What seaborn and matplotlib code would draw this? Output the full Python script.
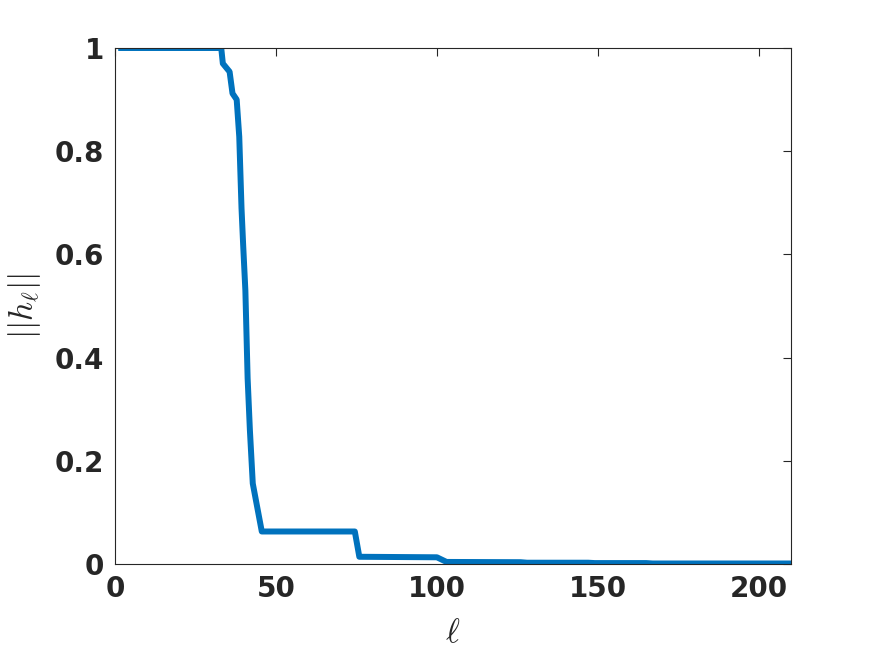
import numpy as np
import pandas as pd
import matplotlib
matplotlib.use("Agg")
import matplotlib.pyplot as plt
import seaborn as sns

# data (vertices of the curve)
ell = [1, 33, 33.5, 35.6, 36.5, 37.8, 38.6, 39.3, 39.8, 40.5, 41.2, 41.9, 42.8,
       45.6, 74.5, 75.9, 100.0, 103.0, 126.0, 128.0, 147.0, 149.0, 165.0, 167.0, 210]
h_norm = [1.0, 1.0, 0.97, 0.954, 0.912, 0.90, 0.828, 0.69, 0.62, 0.53, 0.36, 0.26, 0.156,
          0.063, 0.063, 0.014, 0.013, 0.004, 0.0035, 0.0025, 0.0025, 0.0018, 0.0018, 0.001, 0.001]

x_ticks = [0, 50, 100, 150, 200]
y_ticks = [0, 0.2, 0.4, 0.6, 0.8, 1]
y_tick_labels = ["0", "0.2", "0.4", "0.6", "0.8", "1"]

df = pd.DataFrame({"ell": ell, "h": h_norm})

sns.set_style("white")
plt.rcParams["font.family"] = ["DejaVu Sans"]
plt.rcParams["mathtext.fontset"] = "cm"

axis_col = "#262626"

fig = plt.figure(figsize=(8.75, 6.56), dpi=100)
ax = fig.add_axes([115 / 875, 92 / 656, 676 / 875, 516 / 656])

sns.lineplot(data=df, x="ell", y="h", ax=ax, color="#0072BD", linewidth=4.3,
             solid_joinstyle="round", solid_capstyle="butt",
             estimator=None, sort=False)

ax.set_xlim(0, 210)
ax.set_ylim(0, 1)
ax.set_xticks(x_ticks)
ax.set_xticklabels([str(t) for t in x_ticks])
ax.set_yticks(y_ticks)
ax.set_yticklabels(y_tick_labels)

for lab in ax.get_xticklabels() + ax.get_yticklabels():
    lab.set_fontsize(20)
    lab.set_fontweight("bold")
    lab.set_color(axis_col)

ax.tick_params(direction="in", length=6, width=0.8, color=axis_col,
               top=True, right=True, pad=8)

for sp in ax.spines.values():
    sp.set_visible(True)
    sp.set_color(axis_col)
    sp.set_linewidth(0.8)

ax.set_xlabel(r"$\ell$", fontsize=24, color=axis_col, labelpad=9)
ax.set_ylabel(r"$||h_{\ell}||$", fontsize=24, color=axis_col, labelpad=8)

fig.savefig("out.png", dpi=100, facecolor="white")
